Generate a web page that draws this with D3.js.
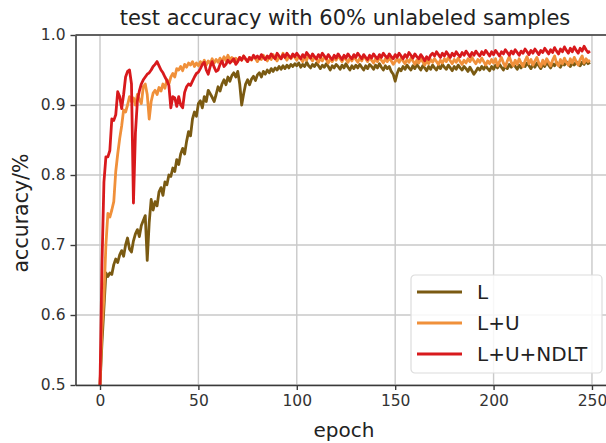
<!DOCTYPE html>
<html>
<head>
<meta charset="utf-8">
<script src="https://cdn.jsdelivr.net/npm/d3@7.9.0/dist/d3.min.js"></script>
<style>
  body { margin: 0; background: #fff; }
  svg { display: block; font-family: "DejaVu Sans", sans-serif; }
</style>
</head>
<body>
<svg id="chart" width="606" height="443"></svg>
<script>
// --- data (accuracy per epoch, 0..249) ---
const seriesNames = ['L', 'L+U', 'L+U+NDLT'];
const xTicks = [0, 50, 100, 150, 200, 250];
const yTicks = [0.5, 0.6, 0.7, 0.8, 0.9, 1.0];

const accL = [
  0.500, 0.560, 0.610, 0.660, 0.655, 0.660, 0.658, 0.672, 0.680, 0.675,
  0.686, 0.692, 0.684, 0.700, 0.710, 0.694, 0.690, 0.706, 0.716, 0.722,
  0.712, 0.728, 0.735, 0.742, 0.678, 0.732, 0.765, 0.750, 0.762, 0.756,
  0.776, 0.782, 0.771, 0.790, 0.786, 0.800, 0.798, 0.810, 0.805, 0.822,
  0.815, 0.830, 0.838, 0.830, 0.848, 0.862, 0.856, 0.880, 0.890, 0.884,
  0.902, 0.906, 0.896, 0.912, 0.905, 0.921, 0.916, 0.911, 0.905, 0.915,
  0.926, 0.920, 0.930, 0.936, 0.929, 0.940, 0.934, 0.942, 0.946, 0.940,
  0.948, 0.930, 0.900, 0.916, 0.930, 0.936, 0.929, 0.937, 0.941, 0.935,
  0.943, 0.946, 0.940, 0.948, 0.944, 0.950, 0.946, 0.952, 0.948, 0.953,
  0.950, 0.955, 0.951, 0.956, 0.952, 0.957, 0.953, 0.958, 0.955, 0.959,
  0.956, 0.960, 0.954, 0.958, 0.955, 0.961, 0.956, 0.953, 0.958, 0.955,
  0.960, 0.956, 0.952, 0.957, 0.954, 0.959, 0.955, 0.950, 0.956, 0.953,
  0.958, 0.955, 0.951, 0.957, 0.953, 0.959, 0.954, 0.950, 0.956, 0.952,
  0.957, 0.953, 0.958, 0.954, 0.950, 0.956, 0.952, 0.958, 0.955, 0.951,
  0.957, 0.953, 0.959, 0.954, 0.950, 0.956, 0.952, 0.955, 0.948, 0.944,
  0.934, 0.945, 0.952, 0.949, 0.955, 0.951, 0.957, 0.953, 0.950, 0.956,
  0.952, 0.958, 0.954, 0.950, 0.956, 0.953, 0.949, 0.955, 0.951, 0.957,
  0.953, 0.950, 0.956, 0.952, 0.958, 0.954, 0.951, 0.957, 0.953, 0.949,
  0.955, 0.951, 0.957, 0.953, 0.950, 0.955, 0.952, 0.948, 0.954, 0.949,
  0.944, 0.948, 0.953, 0.950, 0.955, 0.951, 0.956, 0.952, 0.949, 0.955,
  0.951, 0.957, 0.953, 0.958, 0.954, 0.950, 0.956, 0.952, 0.958, 0.954,
  0.959, 0.955, 0.951, 0.957, 0.953, 0.959, 0.955, 0.960, 0.956, 0.952,
  0.958, 0.954, 0.960, 0.956, 0.952, 0.958, 0.955, 0.961, 0.957, 0.953,
  0.959, 0.956, 0.961, 0.957, 0.954, 0.960, 0.957, 0.962, 0.958, 0.955,
  0.960, 0.957, 0.962, 0.958, 0.956, 0.961, 0.958, 0.963, 0.959, 0.961
];

const accLU = [
  0.500, 0.580, 0.626, 0.700, 0.745, 0.740, 0.750, 0.762, 0.805, 0.830,
  0.852, 0.870, 0.893, 0.890, 0.900, 0.912, 0.905, 0.910, 0.900, 0.915,
  0.908, 0.902, 0.926, 0.930, 0.915, 0.880, 0.905, 0.917, 0.921, 0.915,
  0.925, 0.920, 0.930, 0.924, 0.936, 0.930, 0.940, 0.945, 0.940, 0.952,
  0.950, 0.955, 0.949, 0.958, 0.954, 0.960, 0.957, 0.962, 0.955, 0.960,
  0.956, 0.962, 0.958, 0.964, 0.957, 0.963, 0.959, 0.966, 0.960, 0.965,
  0.961, 0.967, 0.962, 0.969, 0.963, 0.971, 0.965, 0.968, 0.962, 0.967,
  0.963, 0.968, 0.964, 0.970, 0.965, 0.962, 0.968, 0.964, 0.970, 0.966,
  0.962, 0.968, 0.965, 0.971, 0.966, 0.963, 0.969, 0.965, 0.972, 0.967,
  0.963, 0.969, 0.966, 0.974, 0.968, 0.964, 0.970, 0.966, 0.972, 0.968,
  0.964, 0.970, 0.966, 0.962, 0.968, 0.964, 0.971, 0.967, 0.963, 0.969,
  0.965, 0.961, 0.967, 0.963, 0.969, 0.965, 0.960, 0.966, 0.962, 0.968,
  0.964, 0.970, 0.966, 0.962, 0.968, 0.965, 0.961, 0.967, 0.963, 0.969,
  0.965, 0.961, 0.967, 0.963, 0.970, 0.966, 0.962, 0.968, 0.964, 0.960,
  0.966, 0.962, 0.968, 0.964, 0.960, 0.966, 0.962, 0.967, 0.963, 0.958,
  0.962, 0.966, 0.961, 0.967, 0.963, 0.959, 0.965, 0.961, 0.967, 0.963,
  0.958, 0.964, 0.960, 0.966, 0.962, 0.957, 0.963, 0.959, 0.965, 0.961,
  0.966, 0.962, 0.958, 0.964, 0.960, 0.966, 0.962, 0.968, 0.963, 0.959,
  0.965, 0.961, 0.967, 0.962, 0.958, 0.964, 0.960, 0.966, 0.962, 0.968,
  0.963, 0.959, 0.965, 0.961, 0.967, 0.962, 0.957, 0.963, 0.959, 0.965,
  0.960, 0.966, 0.956, 0.962, 0.968, 0.960, 0.955, 0.963, 0.969, 0.961,
  0.956, 0.964, 0.958, 0.966, 0.960, 0.955, 0.963, 0.969, 0.959, 0.965,
  0.957, 0.963, 0.968, 0.960, 0.955, 0.964, 0.958, 0.966, 0.961, 0.956,
  0.964, 0.970, 0.960, 0.956, 0.965, 0.959, 0.967, 0.961, 0.957, 0.966,
  0.960, 0.968, 0.962, 0.957, 0.965, 0.970, 0.960, 0.966, 0.962, 0.964
];

const accNDLT = [
  0.500, 0.672, 0.790, 0.826, 0.826, 0.835, 0.880, 0.878, 0.886, 0.919,
  0.912, 0.895, 0.915, 0.940, 0.948, 0.950, 0.930, 0.760, 0.860, 0.906,
  0.920, 0.930, 0.936, 0.940, 0.944, 0.946, 0.950, 0.955, 0.958, 0.962,
  0.956, 0.950, 0.946, 0.940, 0.935, 0.928, 0.896, 0.912, 0.910, 0.898,
  0.912, 0.900, 0.896, 0.918, 0.926, 0.930, 0.928, 0.934, 0.940, 0.945,
  0.947, 0.952, 0.958, 0.961, 0.950, 0.944, 0.955, 0.962, 0.954, 0.948,
  0.950, 0.958, 0.963, 0.955, 0.958, 0.964, 0.960, 0.963, 0.966, 0.958,
  0.962, 0.968, 0.964, 0.970, 0.966, 0.962, 0.968, 0.965, 0.971, 0.967,
  0.970, 0.966, 0.972, 0.968, 0.965, 0.970, 0.967, 0.973, 0.969, 0.966,
  0.974, 0.970, 0.966, 0.972, 0.968, 0.974, 0.970, 0.967, 0.973, 0.969,
  0.974, 0.970, 0.966, 0.972, 0.968, 0.975, 0.971, 0.967, 0.973, 0.969,
  0.966, 0.972, 0.968, 0.974, 0.970, 0.966, 0.972, 0.968, 0.965, 0.971,
  0.967, 0.973, 0.969, 0.965, 0.971, 0.967, 0.973, 0.969, 0.966, 0.972,
  0.968, 0.974, 0.970, 0.966, 0.972, 0.968, 0.965, 0.971, 0.967, 0.973,
  0.969, 0.966, 0.972, 0.968, 0.974, 0.970, 0.967, 0.973, 0.969, 0.966,
  0.972, 0.968, 0.974, 0.970, 0.966, 0.972, 0.968, 0.975, 0.971, 0.967,
  0.973, 0.969, 0.966, 0.972, 0.968, 0.963, 0.969, 0.965, 0.971, 0.974,
  0.970, 0.976, 0.972, 0.968, 0.974, 0.970, 0.976, 0.972, 0.968, 0.974,
  0.970, 0.976, 0.972, 0.969, 0.975, 0.971, 0.977, 0.973, 0.969, 0.975,
  0.971, 0.977, 0.973, 0.970, 0.976, 0.972, 0.978, 0.974, 0.970, 0.976,
  0.972, 0.978, 0.974, 0.970, 0.976, 0.973, 0.979, 0.975, 0.971, 0.977,
  0.973, 0.979, 0.975, 0.971, 0.977, 0.974, 0.980, 0.976, 0.972, 0.978,
  0.974, 0.980, 0.976, 0.972, 0.978, 0.975, 0.981, 0.977, 0.973, 0.979,
  0.975, 0.982, 0.977, 0.973, 0.980, 0.976, 0.983, 0.978, 0.974, 0.981,
  0.976, 0.983, 0.978, 0.974, 0.981, 0.977, 0.984, 0.979, 0.975, 0.977
];

const colors = ['#7a5a12', '#f0903a', '#d8191c'];
const allSeries = [accL, accLU, accNDLT];

// --- layout ---
const svg = d3.select('#chart');
const plotLeft = 75.5, plotRight = 614.5, plotTop = 35, plotBottom = 385;

const x = d3.scaleLinear().domain([-12.45, 261.45]).range([plotLeft, plotRight]);
const y = d3.scaleLinear().domain([0.5, 1.0]).range([plotBottom, plotTop]);

// grid
svg.append('g')
  .selectAll('line.vgrid')
  .data(xTicks)
  .enter().append('line')
  .attr('x1', d => x(d)).attr('x2', d => x(d))
  .attr('y1', plotTop).attr('y2', plotBottom)
  .attr('stroke', '#c9c9c9').attr('stroke-width', 1.4);

svg.append('g')
  .selectAll('line.hgrid')
  .data(yTicks)
  .enter().append('line')
  .attr('x1', plotLeft).attr('x2', plotRight)
  .attr('y1', d => y(d)).attr('y2', d => y(d))
  .attr('stroke', '#c9c9c9').attr('stroke-width', 1.4);

// lines
svg.append('clipPath').attr('id', 'clip')
  .append('rect')
  .attr('x', plotLeft).attr('y', plotTop)
  .attr('width', plotRight - plotLeft).attr('height', plotBottom - plotTop);

const line = d3.line()
  .x((d, i) => x(i))
  .y(d => y(d));

svg.append('g').attr('clip-path', 'url(#clip)')
  .selectAll('path')
  .data(allSeries)
  .enter().append('path')
  .attr('d', d => line(d))
  .attr('fill', 'none')
  .attr('stroke', (d, i) => colors[i])
  .attr('stroke-width', 2.8)
  .attr('stroke-linejoin', 'round');

// axes
const xAxis = svg.append('g')
  .attr('transform', `translate(0,${plotBottom})`)
  .call(d3.axisBottom(x).tickValues(xTicks).tickSize(5).tickPadding(5).tickSizeOuter(0));
const yAxis = svg.append('g')
  .attr('transform', `translate(${plotLeft},0)`)
  .call(d3.axisLeft(y).tickValues(yTicks).tickFormat(d3.format('.1f')).tickSize(5).tickPadding(5).tickSizeOuter(0));

[xAxis, yAxis].forEach(g => {
  g.select('.domain').attr('stroke', '#3a3a3a').attr('stroke-width', 1.6);
  g.selectAll('.tick line').attr('stroke', '#3a3a3a').attr('stroke-width', 1.4);
  g.selectAll('.tick text')
    .attr('fill', '#333')
    .style('font-size', '15.5px')
    .style('font-family', '"DejaVu Sans", sans-serif');
});

// top spine
svg.append('line')
  .attr('x1', plotLeft).attr('x2', plotRight)
  .attr('y1', plotTop).attr('y2', plotTop)
  .attr('stroke', '#3a3a3a').attr('stroke-width', 1.6);

// title & labels
svg.append('text')
  .attr('x', 345).attr('y', 25)
  .attr('text-anchor', 'middle')
  .attr('fill', '#222')
  .style('font-size', '21px')
  .text('test accuracy with 60% unlabeled samples');

svg.append('text')
  .attr('x', 344).attr('y', 437)
  .attr('text-anchor', 'middle')
  .attr('fill', '#222')
  .style('font-size', '20px')
  .text('epoch');

svg.append('text')
  .attr('transform', `translate(28,${(plotTop + plotBottom) / 2 + 3}) rotate(-90)`)
  .attr('text-anchor', 'middle')
  .attr('fill', '#222')
  .style('font-size', '20.5px')
  .text('accuracy/%');

// legend
const legend = svg.append('g').attr('transform', 'translate(411,275)');
legend.append('rect')
  .attr('width', 191).attr('height', 98)
  .attr('rx', 4)
  .attr('fill', '#fff').attr('fill-opacity', 0.85)
  .attr('stroke', '#dcdcdc').attr('stroke-width', 1.2);

const rows = legend.selectAll('g.row')
  .data(seriesNames)
  .enter().append('g')
  .attr('transform', (d, i) => `translate(0,${17 + i * 31})`);

rows.append('line')
  .attr('x1', 6).attr('x2', 51)
  .attr('stroke', (d, i) => colors[i])
  .attr('stroke-width', 3);

rows.append('text')
  .attr('x', 66).attr('y', 7)
  .attr('fill', '#222')
  .style('font-size', '20px')
  .text(d => d);
</script>
</body>
</html>
